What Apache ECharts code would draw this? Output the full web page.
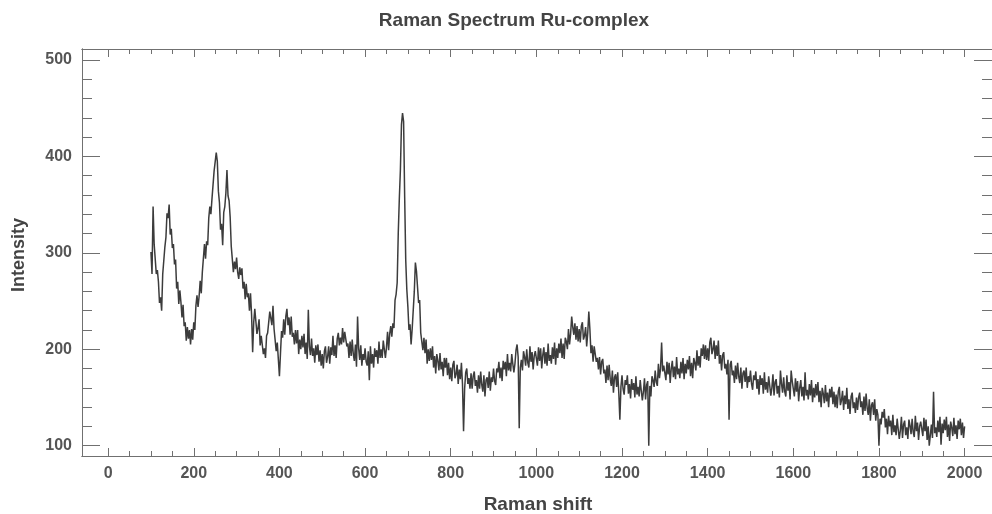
<!DOCTYPE html>
<html>
<head>
<meta charset="utf-8">
<title>Raman Spectrum Ru-complex</title>
<script src="https://cdn.jsdelivr.net/npm/echarts@6/dist/echarts.min.js"></script>
<style>
  html, body { margin: 0; padding: 0; background: #fff; }
  #chart { width: 992px; height: 514px; }
</style>
</head>
<body>
<div id="chart"></div>
<script>
const shiftStart = 100
const shiftStep = 2.5
const intensity = [
  301, 278, 348, 309, 309, 278, 282, 270, 248, 254, 240, 278, 280, 306, 316, 341, 336, 350, 319, 325, // 100
  305, 309, 288, 293, 263, 270, 247, 261, 249, 233, 246, 224, 228, 209, 223, 211, 220, 205, 221, 210, // 150
  228, 220, 245, 256, 244, 255, 271, 258, 280, 281, 309, 294, 312, 308, 336, 348, 340, 356, 356, 385, // 200
  383, 404, 395, 364, 352, 324, 330, 308, 342, 348, 362, 386, 359, 354, 337, 307, 306, 280, 291, 283, // 250
  295, 280, 273, 285, 277, 284, 263, 270, 252, 268, 254, 258, 240, 258, 236, 197, 228, 242, 229, 216, // 300
  222, 231, 204, 214, 213, 195, 201, 191, 214, 217, 216, 239, 232, 225, 245, 221, 221, 198, 207, 209, // 350
  172, 196, 219, 212, 231, 215, 234, 242, 225, 233, 215, 234, 213, 217, 205, 220, 206, 220, 195, 210, // 400
  200, 214, 202, 216, 195, 207, 190, 241, 203, 194, 211, 193, 201, 186, 204, 194, 205, 187, 199, 183, // 450
  195, 180, 198, 203, 186, 192, 203, 185, 202, 194, 214, 193, 204, 191, 211, 217, 204, 212, 205, 222, // 500
  207, 218, 220, 203, 206, 191, 208, 193, 210, 195, 188, 205, 182, 234, 201, 189, 204, 183, 195, 189, // 550
  201, 187, 183, 198, 168, 203, 185, 195, 181, 201, 192, 199, 185, 208, 191, 200, 191, 209, 200, 191, // 600
  202, 218, 199, 216, 224, 213, 227, 222, 251, 257, 269, 320, 356, 386, 433, 445, 436, 358, 292, 262, // 650
  244, 220, 226, 205, 221, 223, 260, 290, 281, 282, 248, 251, 217, 215, 199, 212, 196, 210, 185, 200, // 700
  188, 201, 189, 203, 181, 193, 175, 195, 188, 178, 196, 179, 187, 172, 191, 181, 191, 173, 186, 169, // 750
  181, 167, 184, 188, 170, 174, 184, 164, 179, 169, 186, 164, 115, 159, 176, 180, 164, 170, 159, 175, // 800
  159, 172, 177, 162, 168, 155, 173, 159, 177, 163, 156, 173, 151, 168, 171, 160, 177, 157, 171, 166, // 850
  180, 167, 163, 180, 176, 187, 170, 181, 167, 188, 179, 187, 172, 195, 178, 186, 177, 195, 185, 176, // 900
  185, 199, 205, 192, 118, 181, 189, 178, 198, 192, 183, 200, 186, 181, 203, 187, 197, 179, 193, 198, // 950
  197, 183, 202, 188, 201, 180, 194, 202, 185, 197, 183, 206, 188, 194, 185, 202, 190, 207, 184, 201, // 1000
  191, 206, 196, 211, 191, 206, 190, 212, 208, 200, 221, 205, 216, 234, 223, 215, 227, 210, 224, 208, // 1050
  221, 207, 224, 228, 210, 214, 223, 203, 217, 239, 221, 196, 204, 187, 203, 204, 187, 191, 179, 192, // 1100
  174, 187, 190, 175, 179, 165, 183, 168, 184, 169, 162, 178, 155, 171, 174, 161, 176, 155, 127, 161, // 1150
  173, 159, 153, 168, 163, 173, 154, 164, 149, 169, 158, 165, 150, 172, 153, 161, 151, 168, 157, 147, // 1200
  156, 170, 148, 163, 167, 100, 162, 151, 172, 168, 161, 178, 166, 162, 185, 170, 180, 207, 177, 183, // 1250
  181, 168, 187, 174, 186, 165, 180, 188, 171, 182, 169, 192, 174, 180, 170, 187, 175, 191, 169, 185, // 1300
  175, 189, 179, 193, 172, 186, 170, 191, 186, 178, 199, 183, 193, 181, 201, 193, 205, 190, 204, 189, // 1350
  201, 188, 207, 212, 195, 200, 209, 190, 204, 193, 209, 185, 194, 178, 194, 197, 180, 185, 174, 189, // 1400
  127, 184, 188, 173, 178, 165, 183, 169, 186, 172, 165, 181, 159, 175, 178, 166, 181, 160, 172, 166, // 1450
  178, 164, 158, 173, 168, 177, 159, 169, 153, 173, 163, 170, 154, 176, 158, 166, 155, 172, 162, 152, // 1500
  160, 174, 152, 166, 169, 154, 162, 150, 178, 164, 155, 171, 156, 151, 173, 157, 166, 148, 178, 167, // 1550
  166, 151, 170, 156, 167, 146, 160, 168, 151, 161, 147, 176, 152, 158, 148, 164, 152, 168, 145, 160, // 1600
  150, 164, 152, 166, 145, 157, 140, 160, 154, 144, 163, 146, 155, 140, 159, 150, 161, 143, 156, 140, // 1650
  153, 139, 156, 161, 142, 147, 157, 137, 152, 143, 160, 138, 148, 133, 151, 155, 139, 145, 134, 150, // 1700
  137, 150, 155, 140, 146, 132, 151, 136, 154, 139, 132, 148, 126, 142, 145, 132, 148, 126, 138, 132, // 1750
  100, 128, 122, 135, 129, 138, 119, 128, 112, 131, 120, 126, 111, 132, 114, 121, 111, 128, 117, 107, // 1800
  116, 130, 108, 122, 126, 111, 119, 107, 127, 121, 112, 128, 114, 109, 131, 115, 124, 106, 120, 125, // 1850
  124, 110, 129, 115, 127, 106, 120, 100, 111, 122, 108, 156, 113, 119, 109, 126, 114, 130, 101, 123, // 1900
  113, 127, 116, 130, 109, 122, 105, 125, 119, 110, 129, 112, 121, 107, 126, 117, 128, 111, 124, 108, // 1950
  120
]

const xTicks = [0, 200, 400, 600, 800, 1000, 1200, 1400, 1600, 1800, 2000]
const xMinorTicks = [50, 100, 150, 250, 300, 350, 450, 500, 550, 650, 700, 750, 850, 900, 950,
  1050, 1100, 1150, 1250, 1300, 1350, 1450, 1500, 1550, 1650, 1700, 1750, 1850, 1900, 1950]
const yTicks = [100, 200, 300, 400, 500]
const yMinorTicks = [120, 140, 160, 180, 220, 240, 260, 280, 320, 340, 360, 380, 420, 440, 460, 480]

const xMin = -61
const xMax = 2064
const yMin = 89.3
const yMax = 511.4

const points = []
for (let i = 0; i < intensity.length; i++) {
  points.push([shiftStart + i * shiftStep, intensity[i]])
}

const frameColor = '#707070'
const textColor = '#555'
const font = "'Liberation Sans', Arial, sans-serif"

function makeAxis (position, min, max, ticks, len, labels) {
  return {
    type: 'value',
    position: position,
    min: min,
    max: max,
    axisLine: { show: true, onZero: false, lineStyle: { color: frameColor, width: 1 } },
    axisTick: { show: true, inside: true, length: len, customValues: ticks, lineStyle: { color: frameColor } },
    axisLabel: {
      show: labels,
      customValues: ticks,
      formatter: function (v) { return String(v) },
      margin: 10,
      color: textColor,
      fontWeight: 'bold',
      fontSize: 16,
      fontFamily: font
    },
    splitLine: { show: false }
  }
}

const chart = echarts.init(document.getElementById('chart'))
chart.setOption({
  animation: false,
  backgroundColor: '#fff',
  grid: { left: 82, right: -2, top: 49, bottom: 58 },
  xAxis: [
    makeAxis('bottom', xMin, xMax, xTicks, 8, true),
    makeAxis('bottom', xMin, xMax, xMinorTicks, 5, false),
    makeAxis('top', xMin, xMax, xTicks, 8, false),
    makeAxis('top', xMin, xMax, xMinorTicks, 5, false)
  ],
  yAxis: [
    makeAxis('left', yMin, yMax, yTicks, 18, true),
    makeAxis('left', yMin, yMax, yMinorTicks, 10, false),
    makeAxis('right', yMin, yMax, yTicks, 18, false),
    makeAxis('right', yMin, yMax, yMinorTicks, 10, false)
  ],
  graphic: [
    {
      type: 'text',
      x: 514,
      y: 21,
      style: { text: 'Raman Spectrum Ru-complex', align: 'center', verticalAlign: 'middle', fill: '#444', font: 'bold 19px ' + font }
    },
    {
      type: 'text',
      x: 538,
      y: 505,
      style: { text: 'Raman shift', align: 'center', verticalAlign: 'middle', fill: '#444', font: 'bold 19px ' + font }
    },
    {
      type: 'text',
      x: 19,
      y: 255,
      rotation: Math.PI / 2,
      style: { text: 'Intensity', align: 'center', verticalAlign: 'middle', fill: '#444', font: 'bold 18px ' + font }
    }
  ],
  series: [
    {
      type: 'line',
      xAxisIndex: 0,
      yAxisIndex: 0,
      data: points,
      symbol: 'none',
      sampling: false,
      lineStyle: { color: '#3c3c3c', width: 1.5 }
    }
  ]
})
</script>
</body>
</html>
